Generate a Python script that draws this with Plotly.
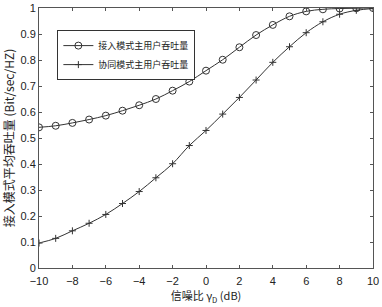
import plotly.graph_objects as go

snr_db = list(range(-10, 11))
access_mode = [0.541, 0.547, 0.558, 0.571, 0.586, 0.605, 0.626, 0.650, 0.682, 0.717,
               0.759, 0.801, 0.849, 0.896, 0.935, 0.968, 0.987, 0.995, 0.998, 0.999, 1.0]
coop_mode = [0.096, 0.114, 0.143, 0.172, 0.206, 0.248, 0.294, 0.347, 0.401, 0.471,
             0.529, 0.592, 0.656, 0.723, 0.791, 0.851, 0.905, 0.947, 0.976, 0.991, 0.998]
names = ["接入模式主用户吞吐量", "协同模式主用户吞吐量"]

fig = go.Figure()
fig.add_trace(go.Scatter(x=snr_db, y=access_mode, name=names[0], mode="lines+markers",
                         line=dict(color="#333333", width=1, shape="spline"),
                         marker=dict(symbol="circle-open", size=7, color="#333333", line=dict(width=1))))
fig.add_trace(go.Scatter(x=snr_db, y=coop_mode, name=names[1], mode="lines+markers",
                         line=dict(color="#333333", width=1, shape="spline"),
                         marker=dict(symbol="cross-thin-open", size=5, color="#333333", line=dict(width=1, color="#333333"))))

axis_common = dict(showgrid=False, zeroline=False, showline=True, linecolor="#555555", linewidth=1,
                   mirror="ticks", ticks="inside", ticklen=3, tickcolor="#555555", automargin=False,
                   tickfont=dict(family="Liberation Sans, Arial", size=11, color="#222222"))
fig.update_xaxes(range=[-10, 10], dtick=2, tick0=-10, ticklabelstandoff=3,
                 title=dict(text="信噪比 γ<sub>D</sub> (dB)", standoff=0,
                            font=dict(family="Noto Sans CJK SC, Liberation Sans", size=11, color="#222222")),
                 **axis_common)
fig.update_yaxes(range=[0, 1], dtick=0.1, tick0=0,
                 title=dict(text="接入模式平均吞吐量 (Bit/sec/HZ)", standoff=4,
                            font=dict(family="Noto Sans CJK SC, Liberation Sans", size=12, color="#222222")),
                 **axis_common)

fig.update_layout(width=382, height=307, margin=dict(l=39, r=9, t=8, b=39, autoexpand=False),
                  paper_bgcolor="white", plot_bgcolor="white", showlegend=True,
                  legend=dict(x=0.055, y=0.915, xanchor="left", yanchor="top",
                              bordercolor="#333333", borderwidth=1, bgcolor="white",
                              font=dict(family="Noto Sans CJK SC", size=9, color="#222222"),
                              tracegroupgap=0, itemwidth=30))
fig.write_html("out.html", config={"displayModeBar": False},
               post_script="document.body.style.margin='0px';")
